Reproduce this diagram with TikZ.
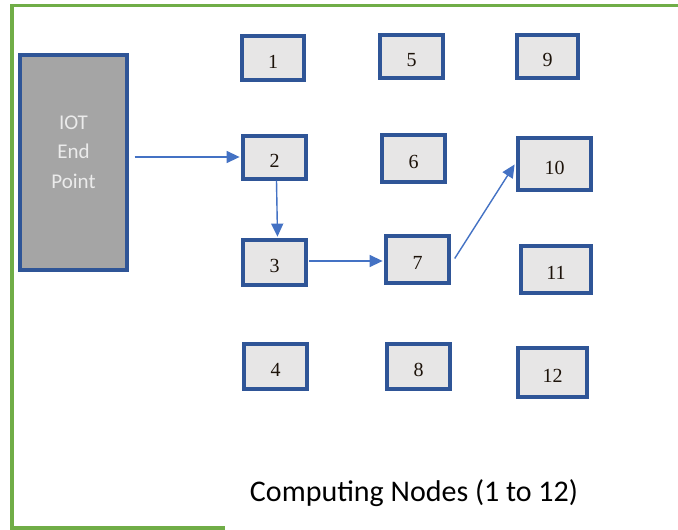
\documentclass[tikz,border=0pt]{standalone}
\usepackage{fontspec}
\setmainfont{Liberation Serif}
\newfontfamily\calib{Carlito}
\usetikzlibrary{arrows.meta}
\definecolor{frameGreen}{HTML}{70AD47}
\definecolor{boxBlue}{HTML}{2F5597}
\definecolor{boxFill}{HTML}{E7E6E6}
\definecolor{iotFill}{HTML}{A5A5A5}
\definecolor{arrowBlue}{HTML}{4472C4}
\tikzset{
  cnode/.style={draw=boxBlue, fill=boxFill, line width=3.4pt, inner sep=0pt,
    text height=20pt, text depth=0pt,
    text=black!85!brown, font=\fontsize{20}{20}\selectfont},
  link/.style={draw=arrowBlue, line width=1.4pt,
    -{Triangle[length=13pt,width=12pt]}}
}
% box from pixel corners: left, top, right, bottom
\newcommand{\cbox}[6]{%
  \node[cnode, minimum width={#4-#2}, minimum height={#5-#3}]
    (#1) at ({(#2+#4)/2},{(#3+#5)/2}) {#6};}
\begin{document}
\begin{tikzpicture}[x=1pt, y=-1pt]
\useasboundingbox (0,0) rectangle (678,530);
\fill[white] (0,0) rectangle (678,530);
% outer frame
\draw[frameGreen, line width=3.5pt] (678,5.5) -- (12,5.5) -- (12,528) -- (225,528);
% IoT end point
\node[draw=boxBlue, fill=iotFill, line width=3.4pt, minimum width=107, minimum height=215]
  (iot) at (73.5,162.5) {};
\node[text=white!92!black, align=center, font=\calib\fontsize{21}{29.5}\selectfont]
  (iotlabel) at (73.5,152) {IOT\\End\\Point};
% computing nodes
\cbox{n1}{242}{36}{304}{80}{1}
\cbox{n2}{243}{136}{306}{179}{2}
\cbox{n3}{243}{240}{306}{285}{3}
\cbox{n4}{244}{344}{307}{389}{4}
\cbox{n5}{380}{35}{443}{78}{5}
\cbox{n6}{382}{135}{445}{182}{6}
\cbox{n7}{386}{236}{449}{283}{7}
\cbox{n8}{387}{344}{450}{389}{8}
\cbox{n9}{517}{35}{578}{78}{9}
\cbox{n10}{518}{138}{591}{190}{10}
\cbox{n11}{521}{246}{591}{293}{11}
\cbox{n12}{518}{348}{587}{397}{12}
% connectors
\draw[link] ([xshift=6pt,yshift=0.5pt]iot.east |- n2.west) -- ([xshift=-1.7pt,yshift=0.5pt]n2.west);
\draw[link] ([xshift=2pt]n2.south) -- ([xshift=3pt,yshift=1.7pt]n3.north);
\draw[link] ([xshift=1.7pt,yshift=1.5pt]n3.east) -- ([xshift=-1.7pt,yshift=1.5pt]n3.east -| n7.west);
\draw[link] ([xshift=4pt,yshift=1pt]n7.east) -- ([xshift=-1.7pt,yshift=-0.5pt]n10.west);
% caption
\node[font=\calib\fontsize{30}{30}\selectfont] (cap) at (414,493) {Computing Nodes (1 to 12)};
\end{tikzpicture}
\end{document}
